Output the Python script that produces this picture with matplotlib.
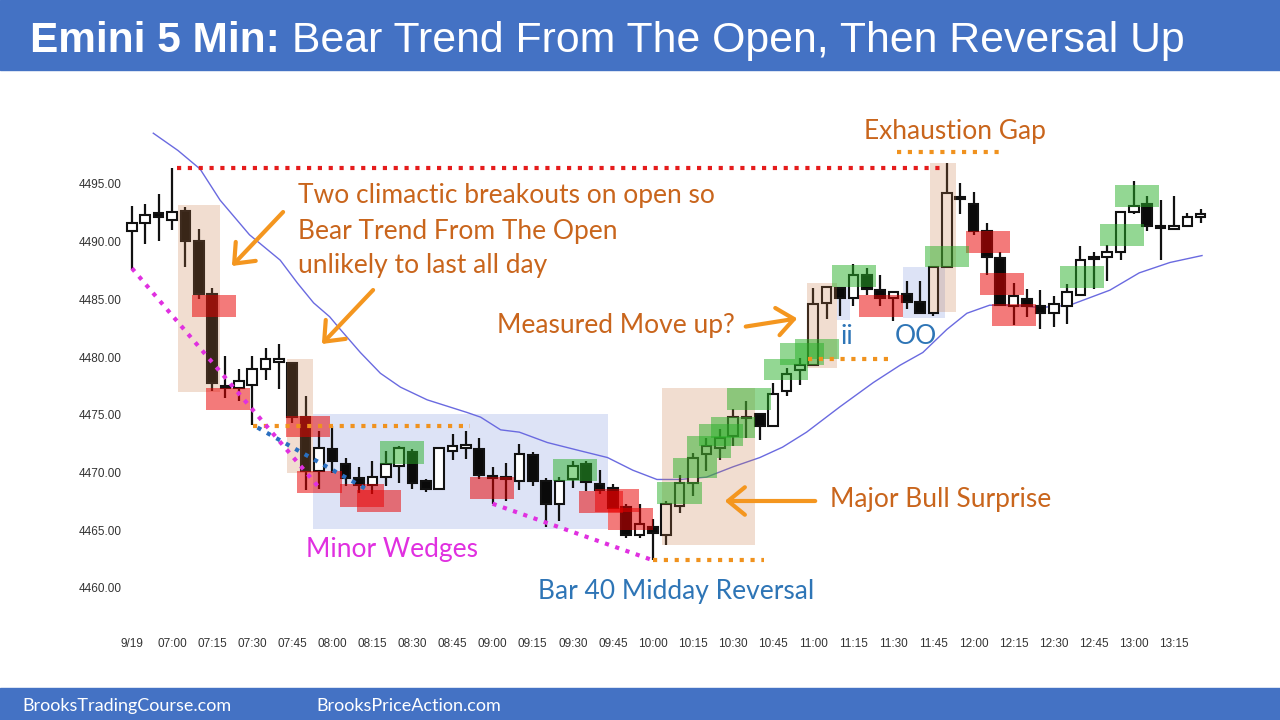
import matplotlib.pyplot as plt
from matplotlib.patches import Rectangle, FancyArrowPatch

# 5 minute bars, index 0 = first bar of the day
opens = [4490.9, 4491.6, 4492.5, 4491.9, 4492.7, 4490.1, 4485.5, 4477.5, 4477.3, 4477.6,
         4479.0, 4479.6, 4479.5, 4474.8, 4470.1, 4472.0, 4470.7, 4469.5, 4468.9, 4469.6,
         4470.6, 4471.8, 4469.3, 4468.6, 4471.9, 4472.1, 4472.0, 4469.7, 4469.6, 4469.3,
         4471.5, 4469.3, 4467.3, 4469.4, 4470.7, 4469.0, 4468.7, 4467.0, 4464.6, 4465.3,
         4464.6, 4467.1, 4469.1, 4471.6, 4472.1, 4473.2, 4474.8, 4475.1, 4474.0, 4477.1,
         4478.9, 4479.3, 4484.7, 4486.0, 4485.1, 4487.1, 4485.8, 4485.1, 4485.5, 4484.8,
         4483.8, 4487.8, 4493.8, 4493.3, 4490.9, 4488.6, 4484.4, 4485.0, 4484.4, 4483.8,
         4484.4, 4485.4, 4488.7, 4488.7, 4489.1, 4492.6, 4493.3, 4491.4, 4491.1, 4491.4,
         4492.1]
highs = [4493.1, 4493.3, 4494.1, 4496.4, 4493.0, 4491.1, 4486.0, 4480.1, 4479.0, 4480.1,
         4480.8, 4481.1, 4479.6, 4476.6, 4473.6, 4474.0, 4471.3, 4470.5, 4471.0, 4471.9,
         4472.3, 4472.0, 4469.4, 4472.2, 4473.3, 4473.6, 4473.0, 4470.5, 4470.8, 4472.5,
         4471.8, 4469.5, 4469.6, 4471.0, 4471.0, 4470.2, 4469.0, 4467.3, 4467.3, 4466.0,
         4467.5, 4469.8, 4471.7, 4473.0, 4473.8, 4475.5, 4476.2, 4475.2, 4477.8, 4479.1,
         4479.9, 4486.0, 4486.2, 4486.1, 4488.1, 4487.7, 4487.1, 4485.7, 4486.6, 4486.6,
         4487.8, 4496.8, 4495.1, 4494.3, 4491.6, 4489.1, 4486.4, 4485.9, 4485.8, 4485.3,
         4486.3, 4489.6, 4489.1, 4489.7, 4492.7, 4495.3, 4494.0, 4493.6, 4494.0, 4492.5,
         4492.8]
lows = [4487.6, 4489.8, 4490.1, 4491.0, 4487.8, 4485.0, 4477.1, 4476.5, 4476.2, 4474.1,
        4478.0, 4477.2, 4474.3, 4468.5, 4468.6, 4470.0, 4468.8, 4468.2, 4468.1, 4468.8,
        4469.1, 4468.6, 4468.3, 4468.5, 4471.1, 4471.2, 4469.4, 4467.3, 4467.5, 4468.5,
        4468.8, 4465.3, 4465.8, 4468.7, 4468.4, 4468.1, 4466.8, 4464.3, 4464.3, 4462.4,
        4463.7, 4466.5, 4468.0, 4470.1, 4471.1, 4472.3, 4473.0, 4472.8, 4474.0, 4476.6,
        4477.6, 4479.3, 4483.3, 4483.6, 4484.4, 4485.4, 4484.4, 4483.1, 4484.2, 4483.7,
        4483.6, 4487.8, 4492.4, 4490.6, 4487.1, 4484.4, 4482.8, 4483.5, 4482.4, 4482.6,
        4482.9, 4485.4, 4485.9, 4486.6, 4488.4, 4492.4, 4490.9, 4488.4, 4491.1, 4491.4,
        4491.6]
closes = [4491.6, 4492.3, 4492.1, 4492.6, 4490.1, 4485.5, 4477.8, 4477.3, 4477.9, 4479.0,
          4479.8, 4479.8, 4474.8, 4470.1, 4472.1, 4471.0, 4469.5, 4468.9, 4469.6, 4470.7,
          4472.1, 4469.1, 4468.6, 4472.1, 4472.3, 4472.4, 4469.8, 4469.5, 4469.4, 4471.6,
          4469.3, 4467.3, 4469.3, 4470.6, 4469.2, 4468.5, 4466.9, 4464.6, 4465.5, 4464.8,
          4467.3, 4469.1, 4471.3, 4472.3, 4473.0, 4474.8, 4474.7, 4474.0, 4476.8, 4478.5,
          4479.3, 4484.6, 4486.1, 4485.1, 4487.1, 4485.9, 4485.1, 4485.6, 4484.8, 4483.8,
          4487.8, 4494.2, 4493.7, 4490.9, 4488.7, 4484.5, 4485.3, 4484.4, 4483.8, 4484.6,
          4485.6, 4488.4, 4488.5, 4489.1, 4492.6, 4493.1, 4491.4, 4491.2, 4491.4, 4492.1,
          4492.4]

# moving average line (bar, price)
ma_bars = [1.6, 3.45, 5.1, 6.6, 8.8, 11.1, 12.4, 13.6, 14.8, 15.6, 17.1, 18.6, 20.1, 22.1,
           25.1, 26.1, 27.6, 29.0, 31.1, 33.5, 35.6, 37.5, 39.3, 41.0, 43.0, 45.0, 47.0,
           48.7, 50.5, 53.0, 55.5, 57.5, 59.2, 61.0, 62.5, 64.2, 65.9, 68.0, 70.2, 73.2,
           75.4, 77.7, 80.1]
ma_vals = [4499.4, 4497.9, 4496.3, 4493.6, 4490.6, 4488.4, 4486.4, 4484.7, 4483.5, 4482.4,
           4480.4, 4478.6, 4477.4, 4476.3, 4475.2, 4474.8, 4473.7, 4473.5, 4472.6, 4471.9,
           4471.3, 4470.2, 4469.4, 4469.4, 4469.6, 4470.5, 4471.3, 4472.2, 4473.5, 4475.7,
           4477.8, 4479.3, 4480.4, 4482.4, 4483.8, 4484.5, 4484.5, 4484.3, 4484.5, 4485.8,
           4487.3, 4488.2, 4488.8]

tick_bars = [0] + list(range(3, 79, 3))
tick_labels = ['9/19', '07:00', '07:15', '07:30', '07:45', '08:00', '08:15', '08:30',
               '08:45', '09:00', '09:15', '09:30', '09:45', '10:00', '10:15', '10:30',
               '10:45', '11:00', '11:15', '11:30', '11:45', '12:00', '12:15', '12:30',
               '12:45', '13:00', '13:15']
price_ticks = [4460, 4465, 4470, 4475, 4480, 4485, 4490, 4495]

# highlight boxes: (centre bar, low, high)
red_boxes = [(6.13, 4483.5, 4485.4), (7.19, 4475.4, 4477.3), (13.18, 4473.1, 4474.9),
             (14.04, 4468.2, 4470.1), (17.25, 4467.0, 4469.0), (18.47, 4466.6, 4468.5),
             (26.95, 4467.7, 4469.6), (35.13, 4466.5, 4468.4), (36.3, 4466.6, 4468.6),
             (37.32, 4465.0, 4466.9), (56.09, 4483.5, 4485.4), (64.06, 4489.0, 4490.9),
             (65.15, 4485.4, 4487.3), (66.05, 4482.7, 4484.6)]
green_boxes = [(20.19, 4470.7, 4472.7), (33.14, 4469.3, 4471.2), (40.99, 4467.3, 4469.2),
               (42.15, 4469.5, 4471.3), (43.23, 4471.3, 4473.2), (44.1, 4472.3, 4474.2),
               (45.02, 4473.0, 4474.8), (46.19, 4475.4, 4477.3), (48.96, 4478.0, 4479.8),
               (50.13, 4479.3, 4481.2), (51.28, 4479.8, 4481.6), (54.03, 4486.1, 4488.0),
               (60.99, 4487.8, 4489.6), (71.09, 4486.0, 4487.9), (74.11, 4489.6, 4491.5),
               (75.23, 4493.0, 4494.9)]
# (first bar, last bar, low, high)
tan_boxes = [(3.45, 6.6, 4477.0, 4493.2), (11.6, 13.55, 4470.0, 4479.8),
             (39.66, 46.64, 4463.7, 4477.3), (50.53, 52.77, 4479.1, 4486.4),
             (59.74, 61.69, 4483.9, 4496.8)]
blue_boxes = [(13.52, 35.64, 4465.1, 4475.1), (52.75, 53.75, 4483.2, 4486.1),
              (57.7, 60.86, 4483.4, 4487.8)]

fig = plt.figure(figsize=(12.8, 7.2), dpi=100)
ax = fig.add_axes([121.9 / 1280, 1 - 622.6 / 720, 1105.5 / 1280, 519.4 / 720])
ax.set_xlim(-0.75, 82)
ax.set_ylim(4457, 4502)

def fx(px):
    return px / 1280

def fy(py):
    return 1 - py / 720

# background boxes
for x0, x1, lo, hi in blue_boxes:
    ax.add_patch(Rectangle((x0, lo), x1 - x0, hi - lo, color='#dde3f6', lw=0, zorder=1))

ax.plot(ma_bars, ma_vals, color='#6a6ae0', lw=1, zorder=2)

# candles
for i in range(len(opens)):
    o, h, l, c = opens[i], highs[i], lows[i], closes[i]
    ax.vlines(i, l, h, color='#111111', lw=1.6, zorder=3)
    bottom = min(o, c)
    height = max(abs(c - o), 0.15)
    face = 'white' if c >= o else '#0a0a0a'
    ax.bar(i, height, bottom=bottom, width=0.72, color=face, edgecolor='#111111',
           lw=1.5, zorder=3.5)

for x0, x1, lo, hi in tan_boxes:
    ax.add_patch(Rectangle((x0, lo), x1 - x0, hi - lo, color='#c87a45', alpha=0.25,
                           lw=0, zorder=4))
for cx, lo, hi in red_boxes:
    ax.add_patch(Rectangle((cx - 1.65, lo), 3.3, hi - lo, color='#e80000', alpha=0.52,
                           lw=0, zorder=4))
for cx, lo, hi in green_boxes:
    ax.add_patch(Rectangle((cx - 1.65, lo), 3.3, hi - lo, color='#28b028', alpha=0.5,
                           lw=0, zorder=4))

# dotted lines
dot = (0, (1, 1.6))
ax.plot([3.37, 60.86], [4496.4, 4496.4], color='#e51c1c', lw=3, ls=dot, zorder=5)
ax.plot([57.3, 65.0], [4497.75, 4497.75], color='#f0921e', lw=3, ls=dot, zorder=5)
ax.plot([9.1, 25.3], [4474.0, 4474.0], color='#f0921e', lw=3, ls=dot, zorder=5)
ax.plot([39.0, 47.3], [4462.4, 4462.4], color='#f0921e', lw=3, ls=dot, zorder=5)
ax.plot([50.6, 56.6], [4479.8, 4479.8], color='#f0921e', lw=3, ls=dot, zorder=5)
ax.plot([0, 14.08], [4487.7, 4468.6], color='#e030e0', lw=3, ls=dot, zorder=5)
ax.plot([27.0, 39.0], [4467.3, 4462.4], color='#e030e0', lw=3, ls=dot, zorder=5)
ax.plot([9.4, 17.8], [4473.9, 4468.4], color='#2a6fc0', lw=3, ls=dot, zorder=5)

# axes styling
for s in ax.spines.values():
    s.set_visible(False)
ax.set_xticks(tick_bars)
ax.set_xticklabels(tick_labels, family='Liberation Sans')
ax.set_yticks(price_ticks)
ax.set_yticklabels([f'{p:.2f}' for p in price_ticks], family='Liberation Sans')
ax.tick_params(length=0, labelsize=8.5, labelcolor='#333333')
ax.tick_params(axis='x', pad=11)
ax.tick_params(axis='y', pad=0)

# header and footer bands
fig.patches.append(Rectangle((0, fy(70)), 1, 70 / 720, transform=fig.transFigure,
                             color='#4472c4', zorder=0))
fig.patches.append(Rectangle((0, 0), 1, 32 / 720, transform=fig.transFigure,
                             color='#4472c4', zorder=0))
t1 = fig.text(fx(30), fy(52), 'Emini 5 Min:', color='white', fontsize=30.5,
              fontweight='bold', family='Liberation Sans', va='baseline')
fig.canvas.draw()
bb = t1.get_window_extent()
fig.text(bb.x1 / 1280, fy(52), ' Bear Trend From The Open, Then Reversal Up',
         color='white', fontsize=30.8, family='Liberation Sans', va='baseline')
fig.text(fx(22), fy(706), 'BrooksTradingCourse.com', color='white', fontsize=13,
         family='Lato', va='center')
fig.text(fx(316), fy(706), 'BrooksPriceAction.com', color='white', fontsize=13,
         family='Lato', va='center')

# annotations
note = dict(family='Lato', fontsize=19, va='center', ha='left')
orange = '#c9651c'
fig.text(fx(298), fy(196), 'Two climactic breakouts on open so', color=orange, **note)
fig.text(fx(298), fy(231), 'Bear Trend From The Open', color=orange, **note)
fig.text(fx(298), fy(266), 'unlikely to last all day', color=orange, **note)
fig.text(fx(497), fy(326), 'Measured Move up?', color=orange, **note)
fig.text(fx(864), fy(132), 'Exhaustion Gap', color=orange, **note)
fig.text(fx(830), fy(500), 'Major Bull Surprise', color=orange, **note)
fig.text(fx(306), fy(549), 'Minor Wedges', color='#e030e0', **note)
fig.text(fx(538), fy(592), 'Bar 40 Midday Reversal', color='#2e75b6', **note)
fig.text(fx(840), fy(337), 'ii', color='#2e75b6', **note)
fig.text(fx(895), fy(337), 'OO', color='#2e75b6', **note)

arrows = [((285, 210), (230, 268)), ((375, 288), (320, 346)),
          ((743, 327), (800, 318)), ((818, 501), (722, 501))]
for (x0, y0), (x1, y1) in arrows:
    fig.add_artist(FancyArrowPatch((fx(x0), fy(y0)), (fx(x1), fy(y1)),
                                   transform=fig.transFigure,
                                   arrowstyle='->,head_length=0.55,head_width=0.45',
                                   mutation_scale=22, lw=3, color='#f4961f'))

fig.savefig('out.png', dpi=100)
